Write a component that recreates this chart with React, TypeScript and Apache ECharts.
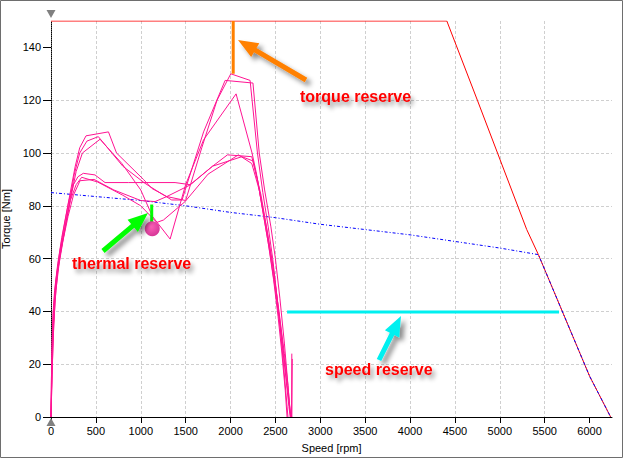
import React, { useEffect, useRef } from "react";
import * as echarts from "echarts";

// ---------- data ----------
const xTicks = [0, 500, 1000, 1500, 2000, 2500, 3000, 3500, 4000, 4500, 5000, 5500, 6000];
const yTicks = [0, 20, 40, 60, 80, 100, 120, 140];

const maxTorqueCurve: number[][] = [
  [0, 150], [4410, 150], [4750, 120], [5300, 71], [5430, 61.5], [6000, 15.5], [6235, 0],
];
const thermalCurve: number[][] = [
  [0, 85], [500, 83.5], [1000, 82], [1500, 80], [2000, 77.5], [2500, 75.5], [3000, 73],
  [3500, 71], [4000, 69], [4500, 66.5], [5000, 64], [5430, 61.5], [6000, 15.5], [6235, 0],
];

const cycleA: number[][] = [
  [0, 0], [4, 12], [10, 25], [20, 38], [40, 48], [75, 58], [120, 68], [170, 77], [220, 86], [270, 95], [320, 102],
  [390, 106.5], [640, 108], [730, 100], [1030, 90], [1123, 86.6], [1290, 83.5], [1500, 82], [1680, 102], [1850, 120],
  [2003, 130], [2218, 127.5], [2300, 100], [2360, 85], [2420, 72], [2470, 60], [2510, 48], [2550, 35], [2590, 20],
  [2620, 8], [2640, 0],
];
const cycleB: number[][] = [
  [0, 0], [8, 14], [18, 28], [35, 42], [60, 52], [100, 61], [150, 70], [200, 80], [260, 92], [320, 100], [400, 104.5],
  [527, 106.2], [800, 95], [1048, 88.5], [1178, 85.7], [1345, 82.2], [1460, 82.2], [1700, 108], [1940, 127.5],
  [2250, 126.5], [2320, 100], [2380, 86], [2450, 72], [2500, 60], [2550, 45], [2600, 28], [2640, 12], [2665, 2],
  [2680, 0], [2683, 24],
];
const cycleC: number[][] = [
  [0, 0], [12, 16], [25, 30], [45, 44], [75, 55], [115, 64], [165, 73], [215, 82], [280, 93], [350, 100],
  [546, 105.2], [790, 96], [1000, 86], [1130, 76], [1327, 67.4], [1500, 88], [1700, 105], [2062, 122.4],
  [2240, 100], [2290, 92], [2350, 80], [2420, 66], [2480, 52], [2530, 38], [2570, 25], [2610, 10], [2630, 0],
];
const cycleD: number[][] = [
  [0, 0], [5, 15], [15, 30], [30, 42], [55, 52], [95, 62], [145, 72], [200, 82], [250, 88], [300, 91],
  [360, 92.3], [490, 91.7], [602, 88.8], [862, 88.8], [1382, 88.8], [1550, 88], [1800, 95], [1966, 99.3],
  [2237, 98.6], [2300, 90], [2370, 76], [2440, 62], [2500, 48], [2560, 32], [2610, 17], [2650, 4], [2665, 0],
];
const cycleE: number[][] = [
  [0, 0], [10, 18], [22, 32], [42, 45], [70, 55], [110, 64], [160, 73], [215, 82], [280, 88],
  [342, 90.8], [520, 89], [800, 84], [1000, 80], [1178, 73.7], [1252, 74.6], [1494, 81.6], [1750, 92],
  [2088, 99.3], [2237, 96], [2320, 86], [2400, 72], [2470, 58], [2530, 42], [2580, 28], [2630, 12],
  [2670, 1], [2683, 0], [2688, 22],
];
const cycleF: number[][] = [
  [0, 0], [15, 20], [30, 35], [55, 48], [90, 58], [135, 67], [190, 76], [250, 84],
  [323, 89.5], [480, 90], [700, 86], [1000, 82], [1159, 81.6], [1290, 83.5], [1550, 87.9], [1800, 95],
  [2126, 98.6], [2250, 97], [2340, 84], [2410, 70], [2480, 55], [2540, 40], [2600, 24], [2640, 12],
  [2660, 3], [2670, 0],
];
const cycles = [cycleA, cycleB, cycleC, cycleD, cycleE, cycleF];

const torqueReserve: number[][] = [[2030, 150], [2030, 130]];
const speedReserve: number[][] = [[2630, 39.8], [5660, 39.8]];
const thermalReserve: number[][] = [[1122, 80.5], [1122, 74]];
const operatingPoint: number[][] = [[1128, 71.3]];

const annotationTexts = ["torque reserve", "thermal reserve", "speed reserve"];

// ---------- helpers ----------
const FONT = "Liberation Sans, Arial, sans-serif";

function arrow(tail: number[], tip: number[], shaft: number, headL: number, headW: number) {
  const dx = tip[0] - tail[0];
  const dy = tip[1] - tail[1];
  const len = Math.sqrt(dx * dx + dy * dy);
  const ux = dx / len, uy = dy / len;
  const nx = -uy, ny = ux;
  const bx = tip[0] - ux * headL, by = tip[1] - uy * headL;
  return [
    [tail[0] + nx * shaft / 2, tail[1] + ny * shaft / 2],
    [bx + nx * shaft / 2, by + ny * shaft / 2],
    [bx + nx * headW / 2, by + ny * headW / 2],
    [tip[0], tip[1]],
    [bx - nx * headW / 2, by - ny * headW / 2],
    [bx - nx * shaft / 2, by - ny * shaft / 2],
    [tail[0] - nx * shaft / 2, tail[1] - ny * shaft / 2],
  ];
}

const shadow = { shadowBlur: 5, shadowColor: "rgba(0,0,0,0.45)", shadowOffsetX: 4, shadowOffsetY: 4 };

function annoText(text: string, x: number, y: number) {
  return {
    type: "text",
    x,
    y,
    z: 100,
    style: {
      text,
      fill: "#ff0000",
      font: `bold 16px ${FONT}`,
      textVerticalAlign: "middle",
      textShadowColor: "rgba(0,0,0,0.4)",
      textShadowBlur: 4,
      textShadowOffsetX: 3,
      textShadowOffsetY: 4,
    },
  };
}

export default function App() {
  const ref = useRef<HTMLDivElement>(null);
  useEffect(() => {
    document.body.style.margin = "0";
    const chart = echarts.init(ref.current!, null, { renderer: "svg" });
    const splitLine = {
      show: true,
      showMinLine: false,
      showMaxLine: false,
      lineStyle: { color: "#cfcfcf", type: [3, 2], width: 1 },
    };
    const option: any = {
      animation: false,
      backgroundColor: "#ffffff",
      grid: { left: 51, right: 12, top: 21, bottom: 42, containLabel: false, outerBoundsMode: "none" },
      xAxis: {
        type: "value",
        min: 0,
        max: 6250,
        interval: 500,
        name: "Speed [rpm]",
        nameLocation: "middle",
        nameGap: 25,
        nameTextStyle: { fontSize: 11, fontFamily: FONT, color: "#000" },
        axisLine: { show: true, onZero: false, lineStyle: { color: "#000", width: 1 } },
        axisTick: { show: true, length: 6, lineStyle: { color: "#000" }, customValues: xTicks },
        axisLabel: {
          fontSize: 11, fontFamily: FONT, color: "#000", margin: 8, customValues: xTicks,
          formatter: (v: number) => String(v),
        },
        splitLine,
      },
      yAxis: {
        type: "value",
        min: 0,
        max: 150,
        interval: 20,
        name: "Torque [Nm]",
        nameLocation: "middle",
        nameGap: 29,
        nameTextStyle: { fontSize: 11, fontFamily: FONT, color: "#000" },
        axisLine: { show: true, onZero: false, lineStyle: { color: "#000", width: 1, type: [1, 1] } },
        axisTick: { show: true, length: 8, lineStyle: { color: "#000" }, customValues: yTicks },
        axisLabel: {
          fontSize: 11, fontFamily: FONT, color: "#000", margin: 10, customValues: yTicks,
          formatter: (v: number) => String(v),
        },
        splitLine,
      },
      series: [
        {
          type: "line",
          data: maxTorqueCurve,
          showSymbol: false,
          lineStyle: { color: "#ff0000", width: 1 },
          z: 2,
        },
        {
          type: "line",
          data: thermalCurve,
          showSymbol: false,
          lineStyle: { color: "#0000ff", width: 1, type: [3, 2, 1, 2] },
          z: 3,
        },
        ...cycles.map((c) => ({
          type: "line",
          data: c,
          showSymbol: false,
          lineStyle: { color: "#ff1493", width: 1 },
          z: 4,
        })),
        {
          type: "line",
          data: torqueReserve,
          showSymbol: false,
          lineStyle: { color: "#ff8000", width: 3 },
          z: 5,
        },
        {
          type: "line",
          data: speedReserve,
          showSymbol: false,
          lineStyle: { color: "#00f0f0", width: 3 },
          z: 5,
        },
        {
          type: "line",
          data: thermalReserve,
          showSymbol: false,
          lineStyle: { color: "#00ff00", width: 3 },
          z: 5,
        },
        {
          type: "scatter",
          data: operatingPoint,
          symbolSize: 15,
          itemStyle: {
            color: new echarts.graphic.RadialGradient(0.4, 0.35, 0.7, [
              { offset: 0, color: "#ff3aa8" },
              { offset: 1, color: "#c8007a" },
            ]),
          },
          z: 6,
        },
      ],
      graphic: [
        {
          type: "rect",
          z: 100,
          shape: { x: 0.5, y: 0.5, width: 622, height: 457 },
          style: { fill: "none", stroke: "#6e6e6e", lineWidth: 1 },
        },
        {
          type: "polygon",
          z: 100,
          shape: { points: [[46.5, 10], [55.5, 10], [51, 18]] },
          style: { fill: "#808080" },
        },
        {
          type: "polygon",
          z: 100,
          shape: { points: [[46.5, 426], [55.5, 426], [51, 418]] },
          style: { fill: "#808080" },
        },
        {
          type: "polygon",
          z: 100,
          shape: { points: arrow([306, 80], [238, 40], 5, 20, 16) },
          style: { fill: "#ff8000", ...shadow },
        },
        {
          type: "polygon",
          z: 100,
          shape: { points: arrow([103, 251], [148, 213], 5, 20, 16) },
          style: { fill: "#00ff00", ...shadow },
        },
        {
          type: "polygon",
          z: 100,
          shape: { points: arrow([379, 360], [401, 316], 5, 20, 16) },
          style: { fill: "#00f0f0", ...shadow },
        },
        annoText(annotationTexts[0], 300, 96),
        annoText(annotationTexts[1], 72, 263),
        annoText(annotationTexts[2], 325, 369),
      ],
    };
    chart.setOption(option);
    return () => chart.dispose();
  }, []);
  return <div ref={ref} style={{ width: 624, height: 459, background: "#fff" }} />;
}
